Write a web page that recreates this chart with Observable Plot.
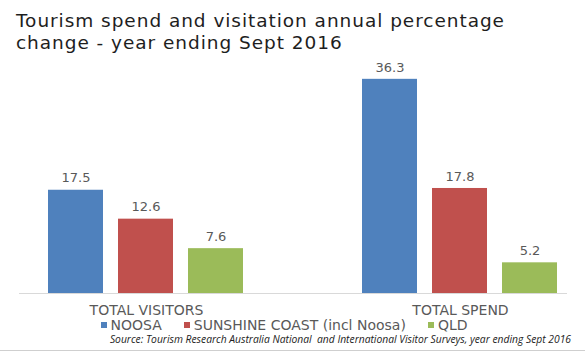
<!DOCTYPE html>
<html><head><meta charset="utf-8">
<script src="https://cdn.jsdelivr.net/npm/d3@7"></script>
<script src="https://cdn.jsdelivr.net/npm/@observablehq/plot@0.6"></script>
<style>
body{margin:0;background:#fff;font-family:"DejaVu Sans",sans-serif;}
#wrap{width:585px;height:350px;border-bottom:1px solid #cfcfcf;position:relative;overflow:hidden}
#title{position:absolute;left:16px;top:10px;font-size:18.5px;line-height:22px;letter-spacing:0.95px;color:#1e1e1e;white-space:nowrap}
#chart{position:absolute;left:0;top:55px}
#legend{position:absolute;left:0;width:568px;padding-right:17px;top:318px;text-align:center;font-size:14px;line-height:14px;color:#595959;white-space:nowrap}
#legend span.item{display:inline-block;margin:0 11px}
#legend span.sw{display:inline-block;width:6px;height:6px;margin-right:4px;vertical-align:2px}
#source{position:absolute;right:14px;top:333px;font-size:10.3px;line-height:12px;font-style:italic;color:#222;white-space:nowrap;font-family:"Open Sans",sans-serif}
</style></head>
<body>
<div id="wrap">
  <div id="title">Tourism spend and visitation annual percentage<br>change - year ending Sept 2016</div>
  <div id="chart"></div>
  <div id="legend"></div>
  <div id="source">Source: Tourism Research Australia National &nbsp;and International Visitor Surveys, year ending Sept 2016</div>
</div>
<script>
const groups = ["TOTAL VISITORS", "TOTAL SPEND"];
const series = ["NOOSA", "SUNSHINE COAST (incl Noosa)", "QLD"];
const visitorsValues = [17.5, 12.6, 7.6];
const spendValues = [36.3, 17.8, 5.2];
const colors = ["#4F81BD", "#C0504D", "#9BBB59"];

const data = [];
series.forEach((s, i) => {
  data.push({group: groups[0], series: s, value: visitorsValues[i]});
  data.push({group: groups[1], series: s, value: spendValues[i]});
});

const chart = Plot.plot({
  width: 585,
  height: 263,
  marginTop: 2,
  marginBottom: 25,
  marginLeft: 22,
  marginRight: 1,
  style: {fontFamily: '"DejaVu Sans", sans-serif', fontSize: "14px", color: "#595959", background: "transparent", overflow: "visible"},
  fx: {domain: groups, paddingInner: 0.331, paddingOuter: 0.06, label: null, axis: "bottom", tickSize: 0, tickPadding: 12},
  x: {domain: series, paddingInner: 0.214, paddingOuter: 0.107, axis: null},
  y: {domain: [0, 40], axis: null},
  color: {domain: series, range: colors},
  marks: [
    Plot.frame({facet: "super", anchor: "bottom", stroke: "#d9d9d9", insetLeft: -22, insetRight: -1}),
    Plot.barY(data, {fx: "group", x: "series", y: "value", fill: "series"}),
    Plot.text(data, {fx: "group", x: "series", y: "value", text: d => d.value.toFixed(1), dy: -12, fill: "#595959", fontSize: 13})
  ]
});
document.getElementById("chart").appendChild(chart);

const legend = document.getElementById("legend");
series.forEach((s, i) => {
  const item = document.createElement("span");
  item.className = "item";
  const sw = document.createElement("span");
  sw.className = "sw";
  sw.style.background = colors[i];
  item.appendChild(sw);
  item.appendChild(document.createTextNode(s));
  legend.appendChild(item);
});
</script>
</body></html>
